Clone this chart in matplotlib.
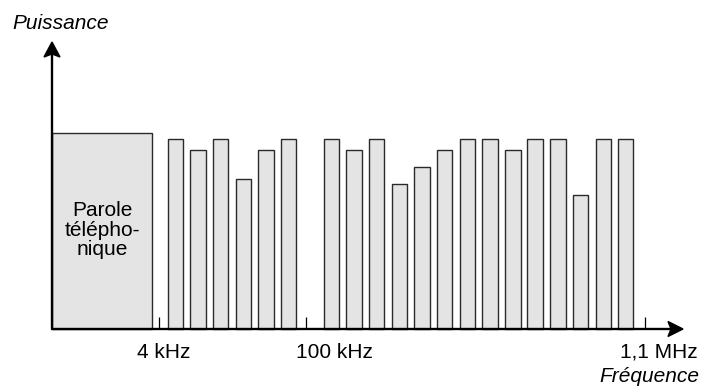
import matplotlib
matplotlib.use('Agg')
import matplotlib.pyplot as plt
from matplotlib.patches import Polygon

plt.rcParams['font.family'] = ['Liberation Sans', 'DejaVu Sans']

# Voice band at the bottom of the spectrum
voice_band = (52, 152)          # start, end on the frequency axis
voice_power = 196
voice_label = 'Parole\ntélépho-\nnique'

# ADSL sub-channels: centre frequency and power level
channel_pos = [175.3, 197.9, 220.7, 243.3, 266.0, 288.7,
               331.7, 354.0, 376.7, 399.5, 422.2, 444.5, 467.5, 490.0,
               512.8, 535.2, 557.8, 580.5, 603.5, 625.7]
channel_power = [190, 179, 190, 150, 179, 190,
                 190, 179, 190, 145, 162, 179, 190, 190,
                 179, 190, 190, 134, 190, 190]

# Frequency markers
tick_pos = [159, 306, 645]
tick_labels = ['4 kHz', '100 kHz', '1,1 MHz']
tick_label_x = [164, 334, 659]

W, H = 702, 388
BASE = 329  # baseline row, from top
fig = plt.figure(figsize=(W / 100, H / 100), dpi=100)
ax = fig.add_axes([0, 0, 1, 1])
ax.set_xlim(0, W)
ax.set_ylim(BASE - H, BASE)
ax.axis('off')

fill = '#e3e4e3'
edge = '#2a2a2a'

# voice band block
ax.bar(voice_band[0], voice_power, width=voice_band[1] - voice_band[0],
       align='edge', color=fill, edgecolor=edge, linewidth=1.0, zorder=2)
ax.text((voice_band[0] + voice_band[1]) / 2, 99, voice_label,
        ha='center', va='center', fontsize=15, linespacing=1.02, zorder=3)

# sub-channel bars
ax.bar(channel_pos, channel_power, width=15.5, color=fill, edgecolor=edge,
       linewidth=1.0, zorder=2)

# frequency tick marks
ax.vlines(tick_pos, 0, 12, color='black', linewidth=0.9, zorder=3)
for x, lab in zip(tick_label_x, tick_labels):
    ax.text(x, -28.7, lab, ha='center', va='baseline', fontsize=15)

# axes with arrow heads
x0 = voice_band[0]
y_tip = BASE - 42
x_tip = 683
ax.plot([x0, x0], [0, y_tip - 8], color='black', lw=1.7, zorder=4,
        solid_capstyle='butt')
ax.plot([x0 - 1, x_tip - 8], [0, 0], color='black', lw=1.7, zorder=4,
        solid_capstyle='butt')
ax.add_patch(Polygon([(x0, y_tip), (x0 - 8, y_tip - 15), (x0, y_tip - 12),
                      (x0 + 8, y_tip - 15)], closed=True, color='black',
                     zorder=5))
ax.add_patch(Polygon([(x_tip, 0), (x_tip - 15, 7.5), (x_tip - 12, 0),
                      (x_tip - 15, -7.5)], closed=True, color='black',
                     zorder=5))

# axis titles
ax.text(12.5, BASE - 29.3, 'Puissance', ha='left', va='baseline',
        fontsize=15, style='italic')
ax.text(699, BASE - 382, 'Fréquence', ha='right', va='baseline',
        fontsize=15, style='italic')

fig.savefig('out.png', dpi=100)
